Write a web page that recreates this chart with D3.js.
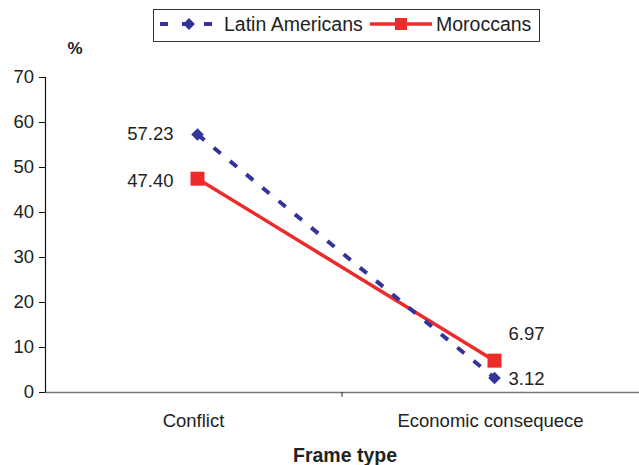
<!DOCTYPE html>
<html><head><meta charset="utf-8">
<script src="https://cdn.jsdelivr.net/npm/d3@7/dist/d3.min.js"></script>
<style>body{margin:0;background:#fff}svg{display:block}text{font-family:"Liberation Sans",Arial,sans-serif;fill:#222}</style>
</head><body><svg id="c" width="639" height="465"></svg>
<script>
const categories = ["Conflict", "Economic consequece"];
const latinAmericans = [57.23, 3.12];
const moroccans = [47.40, 6.97];
const yTicks = [0, 10, 20, 30, 40, 50, 60, 70];
const seriesNames = ["Latin Americans", "Moroccans"];

const svg = d3.select("#c");
const x = d3.scaleBand().domain(categories).range([45, 639]);
const y = d3.scaleLinear().domain([0, 70]).range([392, 77]);
const blue = "#333399", red = "#ee2b2b";
const off = 4;
const fs = "18.5px";

// y axis
const ya = svg.append("g").attr("transform","translate(45,0)")
  .call(d3.axisLeft(y).tickValues(yTicks).tickSize(6).tickPadding(5));
ya.select(".domain").attr("stroke","#111").attr("stroke-width",1.2);
ya.selectAll(".tick line").attr("stroke","#111");
ya.selectAll("text").style("font-size",fs).attr("fill","#222");

// x axis
const xa = svg.append("g").attr("transform","translate(0,392)")
  .call(d3.axisBottom(x).tickSize(0).tickPadding(22));
xa.select(".domain").attr("stroke","#777").attr("stroke-width",1.5);
xa.selectAll("text").style("font-size",fs).attr("fill","#222");
svg.append("line").attr("x1", x(categories[1])).attr("x2", x(categories[1]))
  .attr("y1",392).attr("y2",397).attr("stroke","#333");

svg.append("text").attr("x",75).attr("y",54).attr("text-anchor","middle")
  .style("font-size","17px").style("font-weight","bold").text("%");
svg.append("text").attr("x",345).attr("y",462).attr("text-anchor","middle")
  .style("font-size","19.5px").style("font-weight","bold").text("Frame type");

const cx = (c) => x(c) + x.bandwidth()/2 + off;
const line = d3.line().x((d,i)=>cx(categories[i])).y(d=>y(d));

svg.append("path").datum(moroccans).attr("d", line).attr("fill","none")
  .attr("stroke", red).attr("stroke-width",3.5);
svg.append("path").datum(latinAmericans).attr("d", line).attr("fill","none")
  .attr("stroke", blue).attr("stroke-width",4).attr("stroke-dasharray","9,12");

svg.selectAll(".la").data(latinAmericans).join("path")
  .attr("d", d3.symbol().type(d3.symbolSquare).size(80))
  .attr("transform",(d,i)=>`translate(${cx(categories[i])},${y(d)}) rotate(45)`)
  .attr("fill", blue);
svg.selectAll(".mo").data(moroccans).join("rect")
  .attr("x",(d,i)=>cx(categories[i])-7).attr("y",d=>y(d)-7)
  .attr("width",14).attr("height",14).attr("fill",red);

// data labels
const fmt = d3.format(".2f");
svg.append("text").attr("x",cx(categories[0])-24).attr("y",y(latinAmericans[0])+6).attr("text-anchor","end").style("font-size",fs).text(fmt(latinAmericans[0]));
svg.append("text").attr("x",cx(categories[0])-24).attr("y",y(moroccans[0])+8).attr("text-anchor","end").style("font-size",fs).text(fmt(moroccans[0]));
svg.append("text").attr("x",cx(categories[1])+14).attr("y",y(moroccans[1])-21).style("font-size",fs).text(fmt(moroccans[1]));
svg.append("text").attr("x",cx(categories[1])+14).attr("y",y(latinAmericans[1])+7).style("font-size",fs).text(fmt(latinAmericans[1]));

// legend
const lg = svg.append("g");
lg.append("rect").attr("x",153.5).attr("y",9.5).attr("width",386).attr("height",32)
  .attr("fill","#fff").attr("stroke","#333").attr("stroke-width",1);
lg.append("line").attr("x1",160).attr("x2",218).attr("y1",24).attr("y2",24)
  .attr("stroke",blue).attr("stroke-width",4).attr("stroke-dasharray","8,14");
lg.append("path").attr("d", d3.symbol().type(d3.symbolSquare).size(70)).attr("transform","translate(189,24) rotate(45)").attr("fill",blue);
lg.append("text").attr("x",224).attr("y",31).style("font-size","19.5px").text(seriesNames[0]);
lg.append("line").attr("x1",370).attr("x2",432).attr("y1",24).attr("y2",24)
  .attr("stroke",red).attr("stroke-width",3.5);
lg.append("rect").attr("x",395).attr("y",18).attr("width",12).attr("height",12).attr("fill",red);
lg.append("text").attr("x",436).attr("y",31).style("font-size","19.5px").text(seriesNames[1]);
</script></body></html>
